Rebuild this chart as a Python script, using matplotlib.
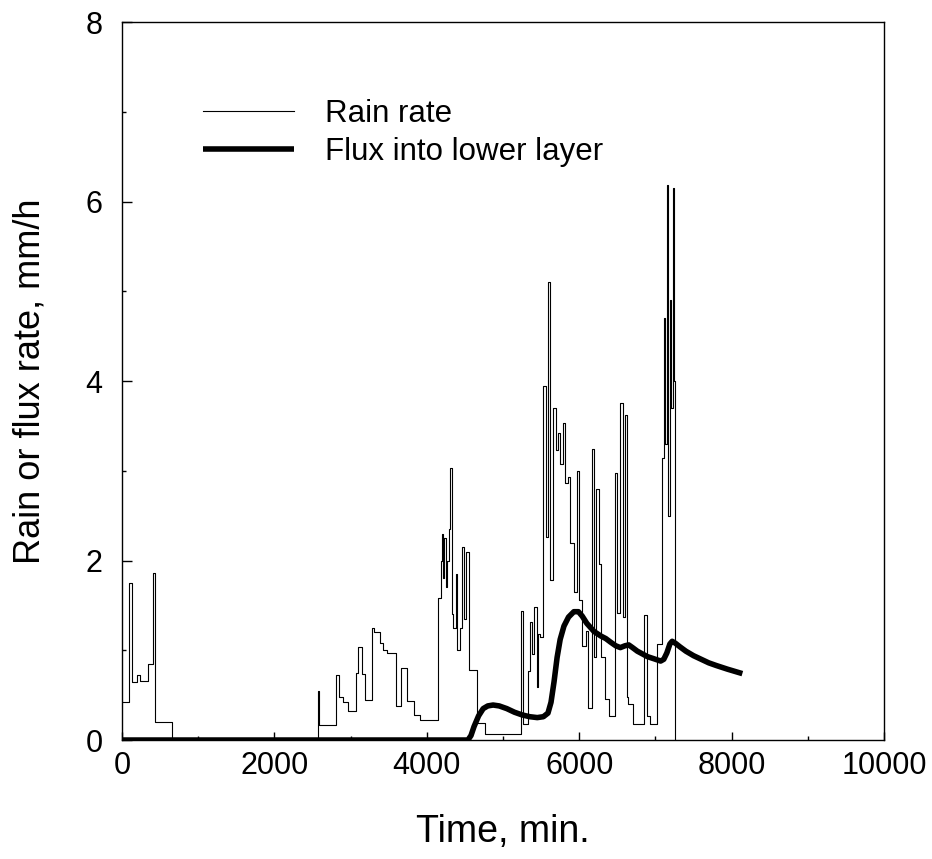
import matplotlib
matplotlib.use('Agg')
import matplotlib.pyplot as plt
from matplotlib.ticker import MultipleLocator

plt.rcParams['font.family'] = ['Liberation Sans', 'DejaVu Sans']

# rain rate: step start time (min) and rate (mm/h)
rain_t = [0, 96, 131, 192, 236, 345, 402, 438, 652,
          2568, 2590, 2804, 2852, 2905, 2970, 3071, 3101, 3145, 3189,
          3277, 3307, 3386, 3430, 3482, 3591, 3661, 3736, 3836, 3911,
          4151, 4180, 4195, 4215, 4230, 4250, 4265, 4290, 4310, 4330,
          4350, 4380, 4400, 4430, 4460, 4490, 4520, 4560, 4655, 4770,
          5232, 5260, 5332, 5360, 5385, 5410, 5440, 5465, 5490, 5529,
          5560, 5590, 5615, 5660, 5695, 5725, 5745, 5790, 5810, 5855,
          5885, 5930, 5965, 6000, 6040, 6085, 6115, 6170, 6195, 6225,
          6255, 6285, 6345, 6390, 6470, 6495, 6540, 6570, 6605, 6625,
          6645, 6702, 6850, 6886, 6930, 7017, 7083, 7110, 7130, 7150,
          7170, 7190, 7210, 7231, 7245, 7257]
rain_r = [0.42, 1.75, 0.65, 0.72, 0.66, 0.85, 1.86, 0.2, 0.0,
          0.55, 0.17, 0.72, 0.48, 0.42, 0.32, 0.75, 1.04, 0.74, 0.45,
          1.25, 1.2, 1.08, 1.0, 0.97, 0.38, 0.8, 0.44, 0.28, 0.22,
          1.58, 2.0, 2.3, 1.8, 2.25, 1.7, 2.0, 2.35, 3.03, 1.4,
          1.25, 1.85, 1.0, 1.25, 2.15, 1.35, 2.1, 0.78, 0.19, 0.07,
          1.44, 0.18, 0.77, 1.31, 0.96, 1.48, 0.59, 1.18, 1.15, 3.94,
          2.26, 5.1, 1.78, 3.7, 3.23, 3.42, 3.08, 3.53, 2.86, 2.93,
          2.19, 1.65, 3.0, 1.56, 1.05, 1.22, 0.36, 3.24, 0.92, 2.8,
          1.96, 0.92, 0.46, 0.27, 2.97, 1.42, 3.75, 1.37, 3.62, 0.48,
          0.4, 0.18, 1.39, 0.27, 0.18, 1.07, 3.14, 4.7, 3.3, 6.18,
          2.5, 4.9, 3.7, 6.15, 4.0, 0.0]

# flux into lower layer (mm/h)
flux_t = [0, 4540, 4580, 4620, 4680, 4740, 4800, 4870, 4950, 5050, 5150,
          5250, 5350, 5450, 5530, 5590, 5630, 5670, 5710, 5750, 5800,
          5860, 5930, 5990, 6040, 6100, 6194, 6282, 6350, 6413, 6480,
          6540, 6600, 6650, 6700, 6763, 6894, 7000, 7069, 7110, 7150,
          7190, 7220, 7260, 7320, 7400, 7500, 7600, 7700, 7800, 7944,
          8141]
flux_r = [0, 0, 0.05, 0.15, 0.27, 0.35, 0.38, 0.39, 0.38, 0.35, 0.31,
          0.28, 0.26, 0.25, 0.26, 0.3, 0.42, 0.65, 0.92, 1.12, 1.27,
          1.37, 1.43, 1.43, 1.38, 1.3, 1.21, 1.16, 1.13, 1.09, 1.05,
          1.03, 1.05, 1.06, 1.03, 0.99, 0.93, 0.9, 0.88, 0.9, 0.97,
          1.07, 1.1, 1.08, 1.04, 0.99, 0.94, 0.9, 0.86, 0.83, 0.79,
          0.74]

fig = plt.figure(figsize=(9.32, 8.59), dpi=100)
ax = fig.add_axes([0.1309, 0.1385, 0.8176, 0.8358])

ax.step(rain_t, rain_r, where='post', color='black', lw=0.8, label='Rain rate')
ax.plot(flux_t, flux_r, color='black', lw=4, solid_capstyle='butt',
        solid_joinstyle='round', label='Flux into lower layer')

ax.set_xlim(0, 10000)
ax.set_ylim(0, 8)
ax.xaxis.set_major_locator(MultipleLocator(2000))
ax.xaxis.set_minor_locator(MultipleLocator(1000))
ax.yaxis.set_major_locator(MultipleLocator(2))
ax.yaxis.set_minor_locator(MultipleLocator(1))
ax.tick_params(which='both', direction='in', labelsize=22, width=1)
ax.tick_params(axis='y', which='major', length=7, pad=14)
ax.tick_params(axis='y', which='minor', length=3)
ax.tick_params(axis='x', which='major', length=6, pad=8)
ax.tick_params(axis='x', which='minor', length=3)
for s in ax.spines.values():
    s.set_linewidth(1)

ax.set_xlabel('Time, min.', fontsize=27, labelpad=24)
ax.set_ylabel('Rain or flux rate, mm/h', fontsize=26, labelpad=27)

ax.legend(loc='upper left', bbox_to_anchor=(0.09, 0.91), frameon=False,
          fontsize=22.5, handlelength=2.9, handletextpad=1.0, labelspacing=0.25,
          borderaxespad=0)

fig.savefig('out.png', dpi=100)
